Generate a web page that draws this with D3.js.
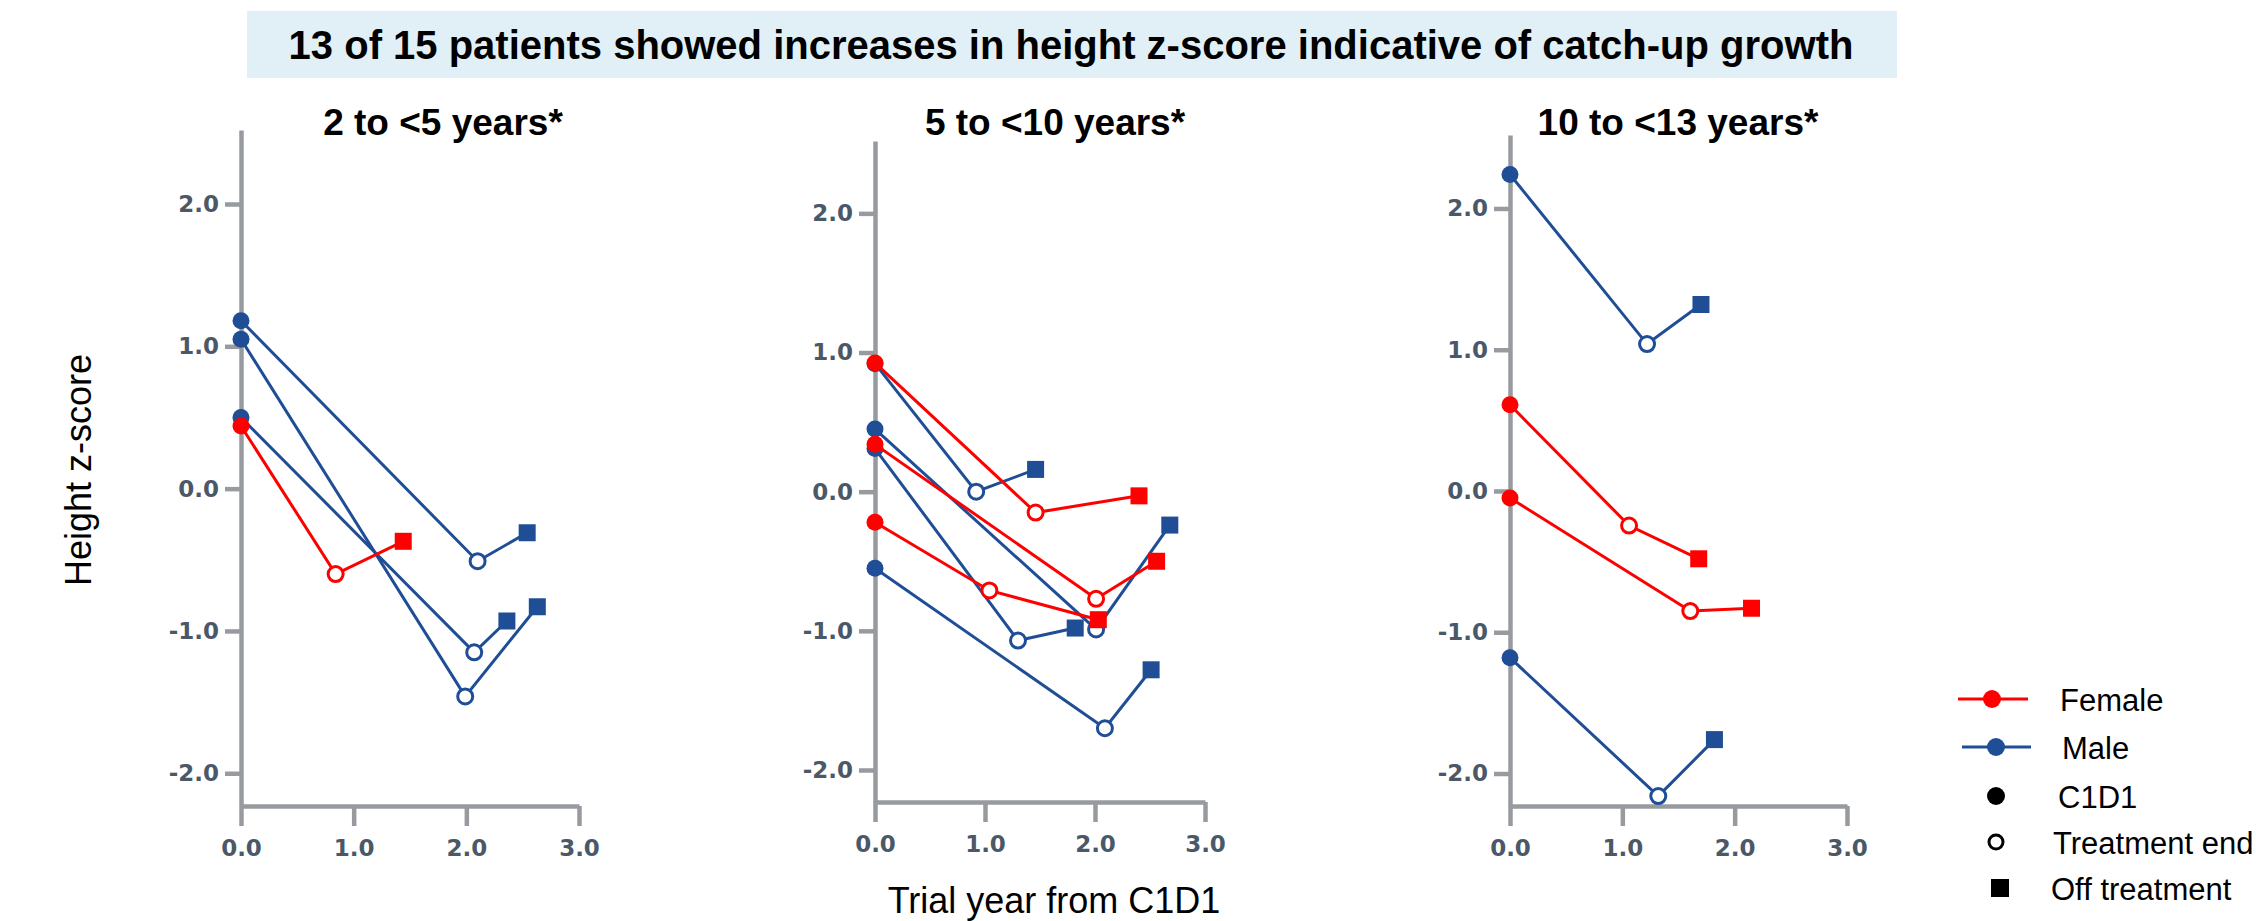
<!DOCTYPE html>
<html>
<head>
<meta charset="utf-8">
<script src="https://cdn.jsdelivr.net/npm/d3@7"></script>
<style>
  html, body { margin: 0; padding: 0; background: #fff; }
  svg { display: block; }
  .axis path, .axis line { stroke: #979a9e; stroke-width: 4.5; }
  .axis text { font-family: "DejaVu Sans", sans-serif; font-weight: bold; font-size: 23px; fill: #4b5868; }
</style>
</head>
<body>
<svg id="chart" width="2256" height="921"></svg>
<script>
// ---- data ----
const mainTitle = "13 of 15 patients showed increases in height z-score indicative of catch-up growth";
const panelTitles = ["2 to <5 years*", "5 to <10 years*", "10 to <13 years*"];
const xTicks = [0, 1, 2, 3];
const yTicks = [-2, -1, 0, 1, 2];

// each patient: [C1D1, treatment end, off treatment]
const panel1Sex = ["M", "M", "M", "F"];
const panel1Time = [[0, 2.10, 2.54], [0, 1.99, 2.63], [0, 2.07, 2.36], [0, 0.84, 1.44]];
const panel1Z = [[1.18, -0.51, -0.31], [1.05, -1.46, -0.83], [0.50, -1.15, -0.93], [0.44, -0.60, -0.37]];

const panel2Sex = ["M", "M", "M", "M", "F", "F", "F"];
const panel2Time = [[0, 0.92, 1.46], [0, 2.01, 2.68], [0, 1.30, 1.82], [0, 2.09, 2.51],
                    [0, 1.46, 2.40], [0, 2.01, 2.56], [0, 1.04, 2.03]];
const panel2Z = [[0.92, 0.00, 0.16], [0.45, -0.99, -0.24], [0.31, -1.07, -0.98], [-0.55, -1.70, -1.28],
                 [0.925, -0.15, -0.03], [0.34, -0.77, -0.50], [-0.22, -0.71, -0.92]];

const panel3Sex = ["M", "M", "F", "F"];
const panel3Time = [[0, 1.22, 1.70], [0, 1.32, 1.82], [0, 1.06, 1.68], [0, 1.605, 2.15]];
const panel3Z = [[2.24, 1.04, 1.32], [-1.18, -2.16, -1.76], [0.61, -0.245, -0.48], [-0.05, -0.85, -0.83]];

const legendLabels = ["Female", "Male", "C1D1", "Treatment end", "Off treatment"];

// ---- layout ----
const colors = { F: "#ff0000", M: "#1f4e96" };
const panels = [
  { sex: panel1Sex, time: panel1Time, z: panel1Z, x0: 241, x1: 579, yb: 806, yt: 130, tx: 443 },
  { sex: panel2Sex, time: panel2Time, z: panel2Z, x0: 875, x1: 1205, yb: 802, yt: 141, tx: 1055 },
  { sex: panel3Sex, time: panel3Time, z: panel3Z, x0: 1510, x1: 1847, yb: 806, yt: 135, tx: 1678 }
];

const svg = d3.select("#chart");
const fmt = d => d.toFixed(1);

// title banner
svg.append("rect")
  .attr("x", 247).attr("y", 11).attr("width", 1650).attr("height", 67)
  .attr("fill", "#e1f0f6");
svg.append("text")
  .attr("x", 1071).attr("y", 59)
  .attr("text-anchor", "middle")
  .attr("font-family", "Liberation Sans, Arial, sans-serif")
  .attr("font-weight", "bold").attr("font-size", 40)
  .text(mainTitle);

panels.forEach((p, i) => {
  const x = d3.scaleLinear().domain([0, 3]).range([p.x0, p.x1]);
  const y = d3.scaleLinear().domain([-2.23, 2.52]).range([p.yb, p.yt]);
  const g = svg.append("g");

  g.append("g").attr("class", "axis")
    .attr("transform", `translate(0,${p.yb})`)
    .call(d3.axisBottom(x).tickValues(xTicks).tickFormat(fmt)
      .tickSize(20).tickSizeOuter(0).tickPadding(14));

  g.append("g").attr("class", "axis")
    .attr("transform", `translate(${p.x0},0)`)
    .call(d3.axisLeft(y).tickValues(yTicks).tickFormat(fmt)
      .tickSize(16).tickSizeOuter(0).tickPadding(6));

  g.append("text")
    .attr("x", p.tx).attr("y", 135)
    .attr("text-anchor", "middle")
    .attr("font-family", "Liberation Sans, Arial, sans-serif")
    .attr("font-weight", "bold").attr("font-size", 37)
    .text(panelTitles[i]);

  const line = d3.line().x(d => x(d[0])).y(d => y(d[1]));

  // males first, females on top
  const order = d3.range(p.sex.length).sort((a, b) => d3.ascending(p.sex[a] === "F", p.sex[b] === "F"));
  order.forEach(k => {
    const c = colors[p.sex[k]];
    const pts = p.time[k].map((t, j) => [t, p.z[k][j]]);
    g.append("path")
      .attr("d", line(pts))
      .attr("fill", "none").attr("stroke", c).attr("stroke-width", 3);
    g.append("circle")
      .attr("cx", x(pts[0][0])).attr("cy", y(pts[0][1])).attr("r", 8.5)
      .attr("fill", c);
    g.append("circle")
      .attr("cx", x(pts[1][0])).attr("cy", y(pts[1][1])).attr("r", 7.5)
      .attr("fill", "#fff").attr("stroke", c).attr("stroke-width", 3);
    g.append("rect")
      .attr("x", x(pts[2][0]) - 8.5).attr("y", y(pts[2][1]) - 8.5)
      .attr("width", 17).attr("height", 17)
      .attr("fill", c);
  });
});

// axis titles
svg.append("text")
  .attr("transform", "translate(91,470) rotate(-90)")
  .attr("text-anchor", "middle")
  .attr("font-family", "Liberation Sans, Arial, sans-serif")
  .attr("font-size", 36)
  .text("Height z-score");
svg.append("text")
  .attr("x", 1054).attr("y", 913)
  .attr("text-anchor", "middle")
  .attr("font-family", "Liberation Sans, Arial, sans-serif")
  .attr("font-size", 36)
  .text("Trial year from C1D1");

// legend
const lg = svg.append("g")
  .attr("font-family", "Liberation Sans, Arial, sans-serif")
  .attr("font-size", 31);
[["F", 699, 1958, 2028, 1992], ["M", 747, 1962, 2031, 1996]].forEach(([s, ly, a, b, m], i) => {
  lg.append("line").attr("x1", a).attr("x2", b).attr("y1", ly).attr("y2", ly)
    .attr("stroke", colors[s]).attr("stroke-width", 3);
  lg.append("circle").attr("cx", m).attr("cy", ly).attr("r", 9).attr("fill", colors[s]);
  lg.append("text").attr("x", i === 0 ? 2060 : 2062).attr("y", ly + 12).text(legendLabels[i]);
});
lg.append("circle").attr("cx", 1996).attr("cy", 796).attr("r", 9).attr("fill", "#000");
lg.append("text").attr("x", 2058).attr("y", 808).text(legendLabels[2]);
lg.append("circle").attr("cx", 1996).attr("cy", 842).attr("r", 7).attr("fill", "#fff")
  .attr("stroke", "#000").attr("stroke-width", 3);
lg.append("text").attr("x", 2053).attr("y", 854).text(legendLabels[3]);
lg.append("rect").attr("x", 1991).attr("y", 879).attr("width", 18).attr("height", 18).attr("fill", "#000");
lg.append("text").attr("x", 2051).attr("y", 900).text(legendLabels[4]);
</script>
</body>
</html>
